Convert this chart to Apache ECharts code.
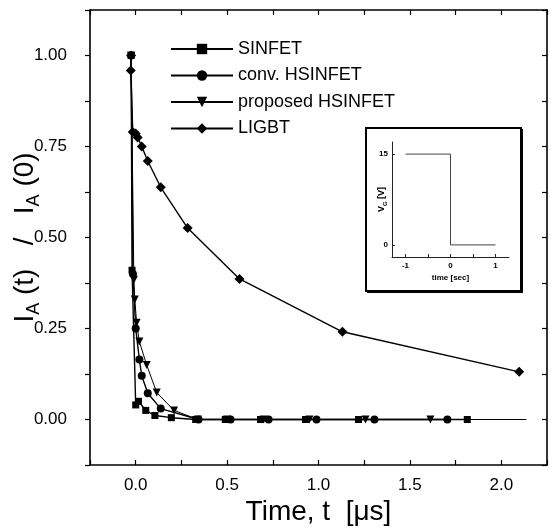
<!DOCTYPE html>
<html>
<head>
<meta charset="utf-8">
<script src="https://cdn.jsdelivr.net/npm/echarts@6/dist/echarts.min.js"></script>
<style>html,body{margin:0;padding:0;background:#fff}#c{width:553px;height:529px}</style>
</head>
<body>
<div id="c"></div>
<script>
// ---- data (time in µs, normalized anode current) ----
var sinfetX = [-0.025, -0.02, 0.0, 0.015, 0.055, 0.105, 0.195, 0.328, 0.49, 0.683, 0.929, 1.219, 1.814];
var sinfetY = [1.0, 0.41, 0.04, 0.05, 0.025, 0.011, 0.005, 0.0, 0.0, 0.0, 0.0, 0.0, 0.0];

var convX = [-0.025, -0.015, 0.0, 0.02, 0.033, 0.066, 0.137, 0.344, 0.519, 0.727, 0.989, 1.306, 1.705];
var convY = [1.0, 0.40, 0.25, 0.165, 0.12, 0.072, 0.03, 0.0, 0.0, 0.0, 0.0, 0.0, 0.0];

var propX = [-0.025, -0.01, -0.005, 0.005, 0.02, 0.06, 0.115, 0.21, 0.34, 0.5, 0.7, 0.95, 1.257, 1.612, 2.137];
var propY = [1.0, 0.384, 0.33, 0.266, 0.214, 0.15, 0.074, 0.025, 0.0, 0.0, 0.0, 0.0, 0.0, 0.0, 0.0];

var ligbtX = [-0.025, -0.027, -0.016, 0.0, 0.011, 0.033, 0.066, 0.137, 0.284, 0.568, 1.131, 2.098];
var ligbtY = [1.0, 0.959, 0.79, 0.786, 0.775, 0.75, 0.71, 0.638, 0.526, 0.386, 0.241, 0.131];

var seriesNames = ['SINFET', 'conv. HSINFET', 'proposed HSINFET', 'LIGBT'];

// inset: gate voltage step
var insetT = [-1, 0, 0, 1];
var insetV = [15, 15, 0, 0];

var xTickLabels = ['0.0', '0.5', '1.0', '1.5', '2.0'];
var yTickLabels = ['0.00', '0.25', '0.50', '0.75', '1.00'];

function zip(xs, ys) { return xs.map(function (x, i) { return [x, ys[i]]; }); }

var FONT = 'Liberation Sans, Arial, sans-serif';
var chart = echarts.init(document.getElementById('c'));

function lineSeries(name, xs, ys, symbol, size, extra) {
  var s = {
    name: name, type: 'line', xAxisIndex: 0, yAxisIndex: 0,
    data: zip(xs, ys), symbol: symbol, symbolSize: size,
    showSymbol: true,
    lineStyle: { color: '#000', width: 1.4 },
    itemStyle: { color: '#000', borderWidth: 0 },
    emphasis: { disabled: true }, animation: false, z: 3
  };
  for (var k in extra) s[k] = extra[k];
  return s;
}

var propData = zip(propX, propY);
var last = propData[propData.length - 1];
propData[propData.length - 1] = { value: last, symbolSize: 0 };

var option = {
  animation: false,
  backgroundColor: '#fff',
  grid: [
    { left: 90, right: 6, top: 10, bottom: 64, show: false, containLabel: false, outerBoundsMode: 'none' },
    { left: 392, width: 117, top: 142, height: 115, show: false, containLabel: false, outerBoundsMode: 'none' }
  ],
  xAxis: [
    {
      type: 'value', gridIndex: 0, min: -0.25, max: 2.25, interval: 0.25,
      axisLine: { onZero: false, lineStyle: { color: '#000', width: 1.6 } },
      axisTick: { inside: true, length: 5, lineStyle: { color: '#000', width: 1.2 } },
      splitLine: { show: false },
      axisLabel: {
        color: '#000', fontSize: 17, fontFamily: FONT, margin: 12,
        formatter: function (v) {
          var i = xTickLabels.indexOf(v.toFixed(1));
          return (Math.abs(v * 2 - Math.round(v * 2)) < 1e-6 && i >= 0) ? xTickLabels[i] : '';
        }
      },
      name: 'Time, t  [\u03bcs]', nameLocation: 'middle', nameGap: 33, nameMoveOverlap: false,
      nameTextStyle: { color: '#000', fontSize: 28, fontFamily: FONT }
    },
    {
      type: 'value', gridIndex: 0, position: 'top', min: -0.25, max: 2.25, interval: 0.25,
      axisLine: { onZero: false, lineStyle: { color: '#000', width: 1.6 } },
      axisTick: { inside: true, length: 5, lineStyle: { color: '#000', width: 1.2 } },
      axisLabel: { show: false }, splitLine: { show: false }
    },
    {
      type: 'value', gridIndex: 1, min: -1.3, max: 1.3,
      axisLine: { onZero: false, lineStyle: { color: '#222', width: 1 } },
      axisTick: { inside: true, length: 3, customValues: [-1, -0.5, 0, 0.5, 1], lineStyle: { color: '#222', width: 1 } },
      axisLabel: { customValues: [-1, 0, 1], color: '#000', fontSize: 8, fontWeight: 'bold', fontFamily: FONT, margin: 5 },
      splitLine: { show: false },
      name: 'time [sec]', nameLocation: 'middle', nameGap: 17, nameMoveOverlap: false,
      nameTextStyle: { color: '#000', fontSize: 8, fontWeight: 'bold', fontFamily: FONT }
    }
  ],
  yAxis: [
    {
      type: 'value', gridIndex: 0, min: -0.125, max: 1.125, interval: 0.125,
      axisLine: { onZero: false, lineStyle: { color: '#000', width: 1.6 } },
      axisTick: { inside: false, length: 5, lineStyle: { color: '#000', width: 1.2 } },
      splitLine: { show: false },
      axisLabel: {
        color: '#000', fontSize: 17, fontFamily: FONT, margin: 23,
        formatter: function (v) {
          var i = yTickLabels.indexOf(v.toFixed(2));
          return i >= 0 ? yTickLabels[i] : '';
        }
      },
      name: '{m|I}{s|A}{m| (t)   /   I}{s|A}{m| (0)}', nameLocation: 'middle', nameGap: 51, nameRotate: 90, nameMoveOverlap: false,
      nameTextStyle: {
        color: '#000', fontFamily: FONT,
        rich: {
          m: { fontSize: 28, lineHeight: 28, verticalAlign: 'top', fontFamily: FONT, color: '#000' },
          s: { fontSize: 18, lineHeight: 18, verticalAlign: 'top', padding: [14, 0, 0, 0], fontFamily: FONT, color: '#000' }
        }
      }
    },
    {
      type: 'value', gridIndex: 0, position: 'right', min: -0.125, max: 1.125, interval: 0.125,
      axisLine: { onZero: false, lineStyle: { color: '#000', width: 1.6 } },
      axisTick: { inside: true, length: 5, lineStyle: { color: '#000', width: 1.2 } },
      axisLabel: { show: false }, splitLine: { show: false }
    },
    {
      type: 'value', gridIndex: 1, min: -2, max: 17,
      axisLine: { onZero: false, lineStyle: { color: '#222', width: 1 } },
      axisTick: { inside: true, length: 3, customValues: [0, 15], lineStyle: { color: '#222', width: 1 } },
      axisLabel: { customValues: [0, 15], color: '#000', fontSize: 8, fontWeight: 'bold', fontFamily: FONT, margin: 4 },
      splitLine: { show: false },
      name: '{a|V}{b|G}{a| [V]}', nameLocation: 'middle', nameGap: 6, nameRotate: 90, nameMoveOverlap: false,
      nameTextStyle: {
        color: '#000', fontFamily: FONT,
        rich: {
          a: { fontSize: 9, lineHeight: 9, verticalAlign: 'top', fontWeight: 'bold', color: '#000', fontFamily: FONT },
          b: { fontSize: 6, lineHeight: 6, verticalAlign: 'top', padding: [5, 0, 0, 0], fontWeight: 'bold', color: '#000', fontFamily: FONT }
        }
      }
    }
  ],
  legend: {
    orient: 'vertical', left: 165, top: 35, itemWidth: 62, itemHeight: 13, itemGap: 8.5,
    textStyle: { color: '#000', fontSize: 18, fontFamily: FONT },
    data: seriesNames, selectedMode: false
  },
  graphic: [
    { type: 'rect', shape: { x: 366, y: 128, width: 155, height: 163 }, style: { fill: 'none', stroke: '#000', lineWidth: 2 }, z: 10 },
    { type: 'polyline', shape: { points: [[522, 129], [522, 292], [367, 292]] }, style: { fill: 'none', stroke: '#000', lineWidth: 2 }, z: 10 }
  ],
  series: [
    lineSeries(seriesNames[0], sinfetX, sinfetY, 'rect', 7, {}),
    lineSeries(seriesNames[1], convX, convY, 'circle', 8, {}),
    (function () {
      var s = lineSeries(seriesNames[2], propX, propY, 'triangle', 8, { symbolRotate: 180 });
      s.data = propData; s.lineStyle.width = 1.0; return s;
    })(),
    lineSeries(seriesNames[3], ligbtX, ligbtY, 'diamond', 10, {}),
    {
      type: 'line', xAxisIndex: 2, yAxisIndex: 2, data: zip(insetT, insetV),
      symbol: 'none', lineStyle: { color: '#444', width: 1 }, animation: false, silent: true
    }
  ]
};
chart.setOption(option);
</script>
</body>
</html>
